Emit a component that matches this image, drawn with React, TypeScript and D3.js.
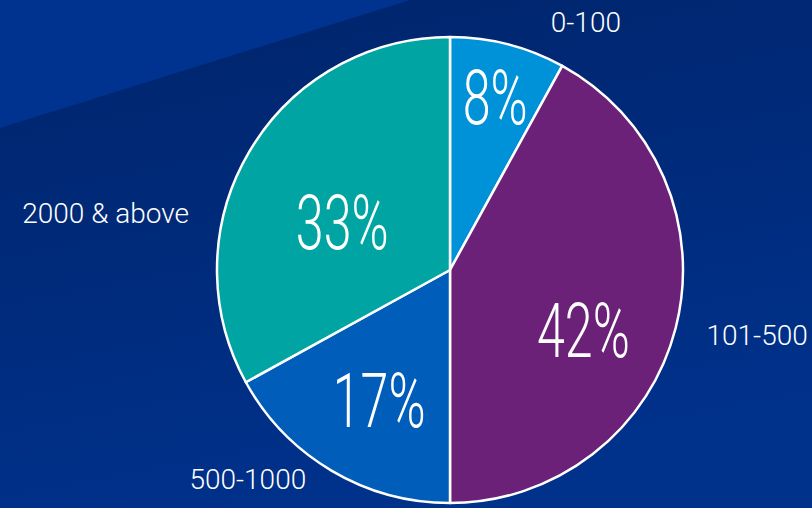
import React from "react";
import * as d3 from "d3";

const categories = ["0-100", "101-500", "500-1000", "2000 & above"];
const values = [8, 42, 17, 33];
const colors = ["#0092D9", "#6C2178", "#005DBA", "#00A5A3"];
// label layout: [angle in degrees clockwise from top, radius]
const catLabelPolar: [number, number][] = [[28.7, 283], [102, 314], [224, 291], [279.4, 349]];
const pctLabelPolar: [number, number][] = [[14.6, 179], [114, 146], [208.6, 148], [294, 118]];

const W = 812, H = 508;
const cx = 450, cy = 270, R = 233;

function polar(angleDeg: number, r: number): [number, number] {
  const a = (angleDeg * Math.PI) / 180;
  return [cx + r * Math.sin(a), cy - r * Math.cos(a)];
}

export default function App() {
  const pie = d3.pie<number>().sort(null).value((d) => d);
  const arcs = pie(values);
  const arc = d3.arc<d3.PieArcDatum<number>>().innerRadius(0).outerRadius(R);
  return (
    <svg width={W} height={H} style={{ position: "absolute", left: 0, top: 0 }}>
      <defs>
        <linearGradient id="bg" x1="0" y1="0" x2="0.3" y2="1">
          <stop offset="0" stopColor="#00246A" />
          <stop offset="1" stopColor="#00318B" />
        </linearGradient>
      </defs>
      <rect x={0} y={0} width={W} height={H} fill="url(#bg)" />
      <polygon points="0,0 410,0 0,128" fill="#00338F" />
      <g transform={`translate(${cx},${cy})`}>
        {arcs.map((a, i) => (
          <path key={i} d={arc(a) || ""} fill={colors[i]} stroke="#ffffff" strokeWidth={2.5} strokeLinejoin="round" />
        ))}
      </g>
      {arcs.map((a, i) => {
        const [x, y] = polar(pctLabelPolar[i][0], pctLabelPolar[i][1]);
        return (
          <text
            key={"p" + i}
            transform={`translate(${x},${y}) scale(0.66,1)`}
            textAnchor="middle"
            dy="0.36em"
            fill="#ffffff"
            fontFamily="Roboto, 'Liberation Sans', sans-serif"
            fontWeight={300}
            fontSize={76}
          >
            {values[i]}%
          </text>
        );
      })}
      {categories.map((c, i) => {
        const [x, y] = polar(catLabelPolar[i][0], catLabelPolar[i][1]);
        return (
          <text
            key={"c" + i}
            x={x}
            y={y}
            dy="0.36em"
            textAnchor="middle"
            fill="#ffffff"
            fontFamily="Roboto, 'Liberation Sans', sans-serif"
            fontWeight={300}
            fontSize={28}
          >
            {c}
          </text>
        );
      })}
    </svg>
  );
}
